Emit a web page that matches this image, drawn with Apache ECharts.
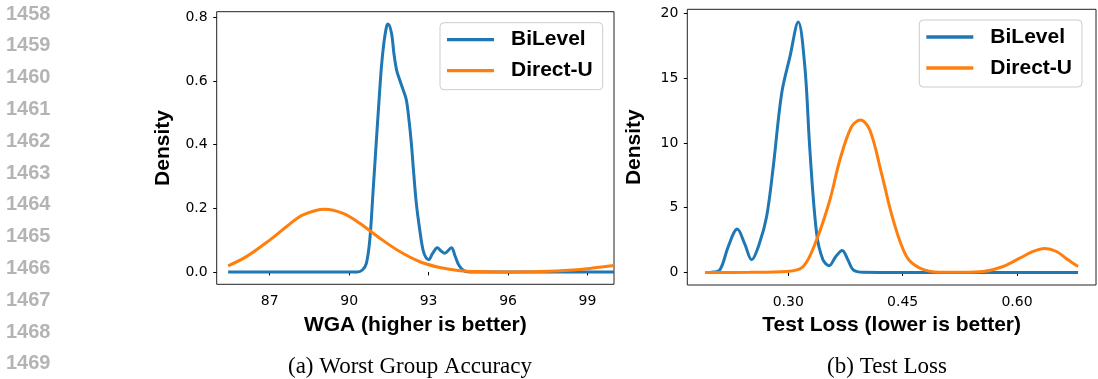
<!DOCTYPE html>
<html>
<head>
<meta charset="utf-8">
<title>KDE</title>
<script src="https://cdn.jsdelivr.net/npm/echarts@6/dist/echarts.min.js"></script>
<style>
  html, body { margin: 0; padding: 0; background: #fff; }
  #main { width: 1098px; height: 379px; }
</style>
</head>
<body>
<div id="main"></div>
<script>
// line numbers in the left margin
var lineNumbers = ['1458','1459','1460','1461','1462','1463','1464','1465','1466','1467','1468','1469'];

// (a) worst group accuracy, [x, density]
var wgaBiLevel = [
  [85.43,0],[88,0],[90.3,0],[90.5,0.006],[90.65,0.027],[90.78,0.101],[90.9,0.248],[91.03,0.415],
  [91.13,0.54],[91.22,0.645],[91.31,0.718],[91.41,0.77],[91.47,0.779],[91.6,0.75],[91.69,0.687],
  [91.79,0.635],[91.91,0.603],[92.04,0.572],[92.16,0.54],[92.26,0.477],[92.35,0.403],[92.44,0.308],
  [92.54,0.213],[92.67,0.13],[92.79,0.069],[92.9,0.045],[93.0,0.038],[93.15,0.058],[93.33,0.076],
  [93.47,0.066],[93.61,0.059],[93.86,0.076],[94.0,0.05],[94.15,0.02],[94.37,0.002],[94.6,0],[97,0],[100,0]
];
var wgaDirectU = [
  [85.43,0.019],[86.12,0.048],[87,0.1],[87.63,0.142],[88.26,0.179],[89.08,0.197],[89.77,0.184],
  [90.4,0.153],[91.16,0.106],[91.91,0.064],[92.67,0.032],[93.42,0.014],[94.18,0.004],[94.93,0.001],
  [96,0],[97.2,0.001],[98.46,0.006],[99.2,0.012],[100,0.02]
];

// (b) test loss, [x, density]
var lossBiLevel = [
  [0.1909,0],[0.2,0.02],[0.2105,0.21],[0.2214,2.0],[0.2332,3.35],[0.243,2.2],[0.252,0.98],[0.262,2.2],
  [0.2717,4.32],[0.2804,8.17],[0.2914,13.83],[0.3022,16.65],[0.3131,19.35],[0.3218,15.9],[0.3284,9.46],
  [0.3372,3.04],[0.3454,1.0],[0.3537,0.52],[0.362,1.2],[0.3708,1.7],[0.378,1.0],[0.3852,0.2],
  [0.3983,0.01],[0.42,0],[0.55,0],[0.68,0]
];
var lossDirectU = [
  [0.1909,0],[0.25,0.01],[0.298,0.07],[0.3197,0.46],[0.3372,2.52],[0.3546,5.6],[0.3677,8.69],
  [0.383,11.26],[0.3948,11.77],[0.407,11.0],[0.4223,7.66],[0.4376,4.06],[0.4551,1.23],[0.4726,0.34],
  [0.4987,0.02],[0.53,0.01],[0.5555,0.07],[0.5817,0.46],[0.6035,1.1],[0.621,1.62],[0.6363,1.85],
  [0.6516,1.62],[0.6668,0.98],[0.68,0.46]
];

var wgaTicks = [87, 90, 93, 96, 99];
var wgaDensityTicks = [0, 0.2, 0.4, 0.6, 0.8];
var lossTicks = [0.30, 0.45, 0.60];
var lossDensityTicks = [0, 5, 10, 15, 20];

var seriesNames = ['BiLevel', 'Direct-U'];
var captions = ['(a) Worst Group Accuracy', '(b) Test Loss'];

var BLUE = '#1f77b4', ORANGE = '#ff7f0e';
var boldFont = { color: '#000', fontFamily: 'Liberation Sans', fontWeight: 'bold', fontSize: 21 };

function xAxisOf(idx, min, max, ticks, name, digits) {
  return {
    type: 'value', gridIndex: idx, min: min, max: max,
    name: name, nameLocation: 'middle', nameGap: 30, nameTextStyle: boldFont,
    axisLine: { show: false },
    axisTick: { show: true, inside: false, length: 3.5, customValues: ticks, lineStyle: { color: '#000', width: 1 } },
    axisLabel: {
      margin: 10, customValues: ticks, color: '#000', fontFamily: 'DejaVu Sans', fontSize: 14,
      formatter: function (v) { return v.toFixed(digits); }
    },
    splitLine: { show: false }
  };
}
function yAxisOf(idx, min, max, ticks, digits) {
  return {
    type: 'value', gridIndex: idx, min: min, max: max,
    name: 'Density', nameLocation: 'middle', nameRotate: 90, nameGap: 43, nameTextStyle: boldFont,
    axisLine: { show: false },
    axisTick: { show: true, inside: false, length: 3.5, customValues: ticks, lineStyle: { color: '#000', width: 1 } },
    axisLabel: {
      margin: 9, customValues: ticks, color: '#000', fontFamily: 'DejaVu Sans', fontSize: 14,
      formatter: function (v) { return v.toFixed(digits); }
    },
    splitLine: { show: false }
  };
}
function lineOf(name, idx, data, color) {
  return {
    name: name, type: 'line', xAxisIndex: idx, yAxisIndex: idx, data: data,
    smooth: 0.35, showSymbol: false, symbol: 'none', clip: true,
    lineStyle: { color: color, width: 3 }, itemStyle: { color: color }
  };
}
function legendOf(left, top) {
  return {
    orient: 'vertical', left: left, top: top, data: seriesNames,
    icon: 'rect', itemWidth: 47, itemHeight: 3.3, itemGap: 5,
    backgroundColor: 'rgba(255,255,255,0.8)', borderColor: '#cccccc', borderWidth: 1, borderRadius: 4,
    padding: [4, 10, 6, 7],
    textStyle: { color: '#000', fontFamily: 'Liberation Sans', fontWeight: 'bold', fontSize: 21, lineHeight: 26, padding: [0, 0, 0, 12] },
    selectedMode: false
  };
}

var graphics = [];
lineNumbers.forEach(function (t, i) {
  graphics.push({
    type: 'text', left: 6, top: 4 + i * 31.8,
    style: { text: t, fill: '#b4b4b4', font: 'bold 20px "Liberation Sans"' }
  });
});
graphics.push({ type: 'text', x: 410, y: 367, style: { text: captions[0], fill: '#000', font: '23px "Liberation Serif"', textAlign: 'center', textVerticalAlign: 'middle' } });
graphics.push({ type: 'text', x: 887, y: 367, style: { text: captions[1], fill: '#000', font: '23px "Liberation Serif"', textAlign: 'center', textVerticalAlign: 'middle' } });

var chart = echarts.init(document.getElementById('main'), null, { renderer: 'canvas' });
chart.setOption({
  animation: false,
  backgroundColor: '#fff',
  grid: [
    { left: 216.7, top: 11.7, width: 397.3, height: 272.6, show: true, borderColor: '#222', borderWidth: 1, backgroundColor: 'transparent' },
    { left: 687.3, top: 9.3, width: 408.7, height: 275.7, show: true, borderColor: '#222', borderWidth: 1, backgroundColor: 'transparent' }
  ],
  xAxis: [
    xAxisOf(0, 85, 100, wgaTicks, 'WGA (higher is better)', 0),
    xAxisOf(1, 0.1677, 0.7035, lossTicks, 'Test Loss (lower is better)', 2)
  ],
  yAxis: [
    yAxisOf(0, -0.0389, 0.8176, wgaDensityTicks, 1),
    yAxisOf(1, -0.97, 20.33, lossDensityTicks, 0)
  ],
  legend: [legendOf(440, 22.7), legendOf(919.3, 20)],
  series: [
    lineOf(seriesNames[0], 0, wgaBiLevel, BLUE),
    lineOf(seriesNames[1], 0, wgaDirectU, ORANGE),
    lineOf(seriesNames[0], 1, lossBiLevel, BLUE),
    lineOf(seriesNames[1], 1, lossDirectU, ORANGE)
  ],
  graphic: graphics
});
</script>
</body>
</html>
